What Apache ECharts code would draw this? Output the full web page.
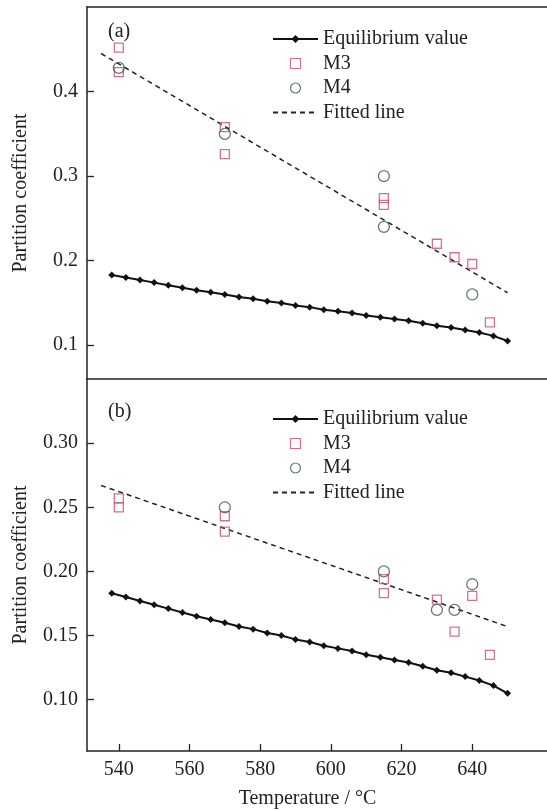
<!DOCTYPE html>
<html>
<head>
<meta charset="utf-8">
<script src="https://cdn.jsdelivr.net/npm/echarts@6/dist/echarts.min.js"></script>
<style>
html,body{margin:0;padding:0;background:#fff;}
#c{width:547px;height:810px;}
</style>
</head>
<body>
<div id="c"></div>
<script>
// Equilibrium value (same curve in both panels)
const eqTemps = [538,542,546,550,554,558,562,566,570,574,578,582,586,590,594,598,602,606,610,614,618,622,626,630,634,638,642,646,650];
const eqValues = [0.183,0.180,0.177,0.174,0.171,0.168,0.165,0.1625,0.160,0.157,0.155,0.152,0.150,0.147,0.145,0.142,0.140,0.138,0.135,0.133,0.131,0.129,0.126,0.123,0.121,0.118,0.115,0.111,0.105];

// Panel (a)
const aM3Temps = [540,540,570,570,615,615,630,635,640,645];
const aM3Values = [0.452,0.423,0.358,0.326,0.274,0.266,0.220,0.204,0.196,0.127];
const aM4Temps = [540,570,615,615,640];
const aM4Values = [0.428,0.350,0.300,0.240,0.160];
const aFitTemps = [535,650];
const aFitValues = [0.445,0.162];

// Panel (b)
const bM3Temps = [540,540,570,570,615,615,630,635,640,645];
const bM3Values = [0.257,0.250,0.243,0.231,0.194,0.183,0.178,0.153,0.181,0.135];
const bM4Temps = [570,615,630,635,640];
const bM4Values = [0.250,0.200,0.170,0.170,0.190];
const bFitTemps = [535,650];
const bFitValues = [0.267,0.157];

// Axes
const xTicks = [540,560,580,600,620,640];
const aYTicks = [0.1,0.2,0.3,0.4];
const bYTicks = [0.10,0.15,0.20,0.25,0.30];

const names = ['Equilibrium value','M3','M4','Fitted line'];
const FONT = 'Liberation Serif';
const TXT = '#222';
const M3C = '#c8506c';
const M4C = '#3f5a52';

function pairs(xs, ys){ return xs.map((x,i)=>[x, ys[i]]); }

function panelSeries(idx, m3x, m3y, m4x, m4y, fx, fy){
  return [
    {name:names[0], type:'line', xAxisIndex:idx, yAxisIndex:idx, data:pairs(eqTemps, eqValues),
     symbol:'diamond', symbolSize:7, itemStyle:{color:'#111'}, lineStyle:{color:'#111', width:2}, z:3, animation:false},
    {name:names[1], type:'scatter', xAxisIndex:idx, yAxisIndex:idx, data:pairs(m3x, m3y),
     symbol:'rect', symbolSize:9, itemStyle:{color:'rgba(0,0,0,0)', borderColor:M3C, borderWidth:1.3}, z:4, animation:false},
    {name:names[2], type:'scatter', xAxisIndex:idx, yAxisIndex:idx, data:pairs(m4x, m4y),
     symbol:'circle', symbolSize:11, itemStyle:{color:'rgba(0,0,0,0)', borderColor:M4C, borderWidth:1.3}, z:5, animation:false},
    {name:names[3], type:'line', xAxisIndex:idx, yAxisIndex:idx, data:pairs(fx, fy),
     symbol:'none', showSymbol:false, lineStyle:{color:'#222', width:1.5, type:[5,4]}, itemStyle:{color:'#222'}, z:2, animation:false}
  ];
}

function legend(top){
  return {
    orient:'vertical', left:267, top:top, itemWidth:45, itemHeight:10, itemGap:4.5,
    textStyle:{fontFamily:FONT, fontSize:20, color:TXT, lineHeight:20},
    data:[
      {name:names[0]},
      {name:names[1], icon:'path://M0,0H10V10H0Z', itemStyle:{color:'#fff', borderColor:M3C, borderWidth:1.2}},
      {name:names[2], icon:'circle', itemStyle:{color:'#fff', borderColor:M4C, borderWidth:1.2}},
      {name:names[3], itemStyle:{color:'rgba(0,0,0,0)', borderColor:'rgba(0,0,0,0)', opacity:0}}
    ],
    selectedMode:false
  };
}

function yAxis(idx, min, max, ticks, dec){
  return {
    type:'value', gridIndex:idx, min:min, max:max,
    name:'Partition coefficient', nameLocation:'middle', nameGap:56,
    nameTextStyle:{fontFamily:FONT, fontSize:20, color:TXT},
    axisLine:{show:true, lineStyle:{color:'#222', width:1.5}},
    axisTick:{show:true, inside:true, length:7, customValues:ticks, lineStyle:{color:'#222', width:1.3}},
    axisLabel:{customValues:ticks, fontFamily:FONT, fontSize:20, color:TXT, margin:9, formatter:v=>v.toFixed(dec)},
    splitLine:{show:false}
  };
}

const chart = echarts.init(document.getElementById('c'), null, {renderer:'canvas'});
chart.setOption({
  backgroundColor:'#fff',
  animation:false,
  grid:[
    {left:87, top:7, width:463, height:372, outerBoundsMode:'none', containLabel:false, show:false},
    {left:87, top:379, width:463, height:372, outerBoundsMode:'none', containLabel:false, show:false}
  ],
  xAxis:[
    {type:'value', gridIndex:0, position:'top', min:531, max:662, axisLine:{show:true, lineStyle:{color:'#222', width:1.5}}, axisTick:{show:false}, axisLabel:{show:false}, splitLine:{show:false}},
    {type:'value', gridIndex:0, position:'bottom', min:531, max:662, axisLine:{show:true, lineStyle:{color:'#222', width:1.5}}, axisTick:{show:false}, axisLabel:{show:false}, splitLine:{show:false}},
    {type:'value', gridIndex:1, min:531, max:662,
     name:'Temperature / °C', nameLocation:'middle', nameGap:38,
     nameTextStyle:{fontFamily:FONT, fontSize:20, color:TXT, padding:[0,22,0,0]},
     axisLine:{show:true, lineStyle:{color:'#222', width:1.5}},
     axisTick:{show:true, inside:true, length:7, customValues:xTicks, lineStyle:{color:'#222', width:1.3}},
     axisLabel:{customValues:xTicks, fontFamily:FONT, fontSize:20, color:TXT, margin:9},
     splitLine:{show:false}}
  ],
  yAxis:[
    yAxis(0, 0.06, 0.5, aYTicks, 1),
    yAxis(1, 0.06, 0.35, bYTicks, 2)
  ],
  legend:[legend(24), legend(404)],
  graphic:[
    {type:'text', left:108, top:22, style:{text:'(a)', font:'20px "Liberation Serif"', fill:TXT}},
    {type:'text', left:108, top:402, style:{text:'(b)', font:'20px "Liberation Serif"', fill:TXT}}
  ],
  series:[].concat(
    panelSeries(0, aM3Temps, aM3Values, aM4Temps, aM4Values, aFitTemps, aFitValues),
    panelSeries(2, bM3Temps, bM3Values, bM4Temps, bM4Values, bFitTemps, bFitValues).map(s=>Object.assign(s,{xAxisIndex:2, yAxisIndex:1}))
  )
});
</script>
</body>
</html>
